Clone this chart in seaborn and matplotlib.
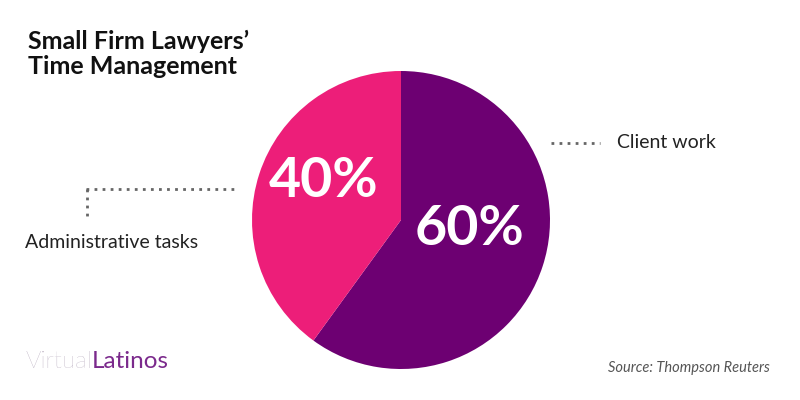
import matplotlib
matplotlib.use("Agg")
import matplotlib.pyplot as plt
import seaborn as sns

sns.set_theme(style="white")
plt.rcParams['font.family'] = ['Lato', 'DejaVu Sans']

categories = ["Client work", "Administrative tasks"]
values = [60, 40]
labels = ["60%", "40%"]
colors = ["#6d0072", "#ed1e79"]

title = "Small Firm Lawyers’\nTime Management"
source = "Source: Thompson Reuters"

fig = plt.figure(figsize=(8, 4), dpi=100)
fig.patch.set_facecolor("white")

# overlay axes in pixel coordinates for annotations
ov = fig.add_axes([0, 0, 1, 1])
ov.set_xlim(0, 800)
ov.set_ylim(400, 0)
ov.axis("off")

# pie axes
ax = fig.add_axes([252 / 800, (400 - 369) / 400, 298 / 800, 298 / 400])
wedges, _ = ax.pie(values, colors=colors, startangle=90, counterclock=False,
                   wedgeprops=dict(linewidth=0))
ax.set_xlim(-1, 1)
ax.set_ylim(-1, 1)
ax.set_aspect("equal")
ax.axis("off")

# percentage labels
ax.text(0.46, -0.06, labels[0], color="white", fontsize=40, fontweight="bold",
        ha="center", va="center")
ax.text(-0.52, 0.26, labels[1], color="white", fontsize=40, fontweight="bold",
        ha="center", va="center")

# title
ov.text(28, 54, title, fontsize=18, fontweight="bold", color="#111111",
        ha="left", va="center", linespacing=1.08)

dot = dict(color="#666666", linestyle=(0, (1, 1.9)), linewidth=2.0,
           dash_capstyle="butt")
# client work leader
ov.plot([551, 600], [143, 143], **dot)
ov.text(617, 143, categories[0], fontsize=14, color="#222222",
        ha="left", va="center")
# administrative leader
ov.plot([86, 238], [189, 189], **dot)
ov.plot([87, 87], [189, 218], **dot)
ov.text(25, 242, categories[1], fontsize=14, color="#222222",
        ha="left", va="center")

# logo
t1 = ov.text(25, 362, "Virtual", fontsize=17.5, color="#a596ad", fontweight="light",
             ha="left", va="center")
fig.canvas.draw()
bb = t1.get_window_extent()
x_end = bb.x1  # pixels, same as data units here
ov.text(x_end, 362, "Latinos", fontsize=17.5, color="#7b2a8c", ha="left", va="center")

# source
ov.text(770, 368, source, fontsize=10.5, color="#555555", style="italic",
        ha="right", va="center")

fig.savefig("out.png", dpi=100, facecolor="white")
